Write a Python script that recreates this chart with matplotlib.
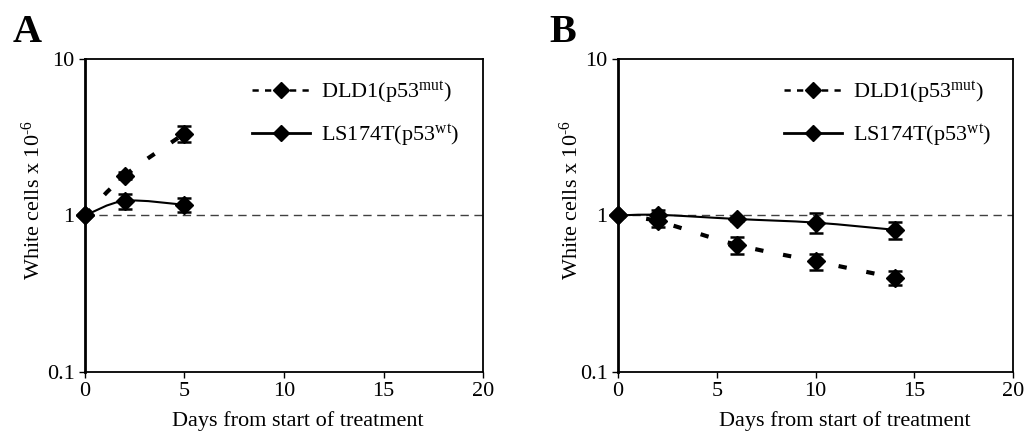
import numpy as np
import matplotlib
matplotlib.use('Agg')
import matplotlib.pyplot as plt
from matplotlib.path import Path
from matplotlib.patches import PathPatch
from matplotlib.lines import Line2D

plt.rcParams['font.family'] = ['Liberation Serif', 'DejaVu Serif']
plt.rcParams['mathtext.fontset'] = 'custom'
plt.rcParams['mathtext.rm'] = 'Liberation Serif'
plt.rcParams['mathtext.it'] = 'Liberation Serif:italic'

# panel A: short treatment
days_a = [0, 2, 5]
dld1_a = [1.0, 1.80, 3.34]
dld1_a_err = [0.0, 0.10, 0.38]
ls174t_a = [1.0, 1.24, 1.17]
ls174t_a_err = [0.0, 0.14, 0.12]

# panel B: long treatment
days_b = [0, 2, 6, 10, 14]
dld1_b = [1.0, 0.92, 0.65, 0.51, 0.40]
dld1_b_err = [0.0, 0.07, 0.08, 0.06, 0.04]
ls174t_b = [1.0, 1.01, 0.95, 0.90, 0.81]
ls174t_b_err = [0.0, 0.07, 0.03, 0.13, 0.10]

lbl_dld1 = r'DLD1(p53$^{\mathrm{mut}}$)'
lbl_ls = r'LS174T(p53$^{\mathrm{wt}}$)'
xticks = [0, 5, 10, 15, 20]
yticks = [0.1, 1, 10]
ytick_labels = ['0.1', '1', '10']

FS = 16


def smooth_path(x, y):
    # excel-style smoothed line: catmull-rom bezier in (x, log y)
    x = np.asarray(x, float)
    ly = np.log10(np.asarray(y, float))
    pts = np.column_stack([x, ly])
    n = len(pts)
    verts = [pts[0]]
    codes = [Path.MOVETO]
    for i in range(n - 1):
        p0 = pts[max(i - 1, 0)]
        p1 = pts[i]
        p2 = pts[i + 1]
        p3 = pts[min(i + 2, n - 1)]
        c1 = p1 + (p2 - p0) / 6.0
        c2 = p2 - (p3 - p1) / 6.0
        verts += [c1, c2, p2]
        codes += [Path.CURVE4] * 3
    verts = np.array(verts)
    verts[:, 1] = 10 ** verts[:, 1]
    return Path(verts, codes)


def draw_panel(ax, days, dld1, dld1_err, ls, ls_err, letter, xlab_pos,
               ylab_x, letter_x):
    ax.set_yscale('log')
    ax.set_xlim(0, 20)
    ax.set_ylim(0.1, 10)
    ax.axhline(1, color='0.25', lw=1.0, ls=(0, (6, 4)), zorder=1)

    ax.add_patch(PathPatch(smooth_path(days, dld1), fill=False, color='black',
                           lw=3.0, ls=(0, (2.0, 4.8)), zorder=2))
    ax.add_patch(PathPatch(smooth_path(days, ls), fill=False, color='black',
                           lw=1.5, zorder=2))

    for vals, errs in [(dld1, dld1_err), (ls, ls_err)]:
        ax.errorbar(days, vals, yerr=errs, fmt='none', ecolor='black',
                    elinewidth=1.5, capsize=5, capthick=1.8, zorder=3,
                    clip_on=False)
        ax.plot(days, vals, ls='none', marker='D', ms=9, color='black',
                zorder=4, clip_on=False)

    ax.set_xticks(xticks)
    ax.set_yticks(yticks)
    ax.set_yticklabels(ytick_labels)
    ax.yaxis.set_minor_locator(matplotlib.ticker.NullLocator())
    ax.tick_params(direction='out', length=4.5, width=1.0, labelsize=FS,
                   pad=3, top=False, right=False)
    for s in ax.spines.values():
        s.set_linewidth(1.3)
    ax.spines['left'].set_linewidth(2)

    ax.set_xlabel('Days from start of treatment', fontsize=FS)
    ax.xaxis.set_label_coords(xlab_pos, -0.125)
    ax.set_ylabel(r'White cells x 10$^{\text{-6}}$', fontsize=FS)
    ax.yaxis.set_label_coords(ylab_x, 0.55)

    handles = [Line2D([], [], color='black', lw=1.8, ls=(0, (2.5, 2.5)),
                      marker='D', ms=8),
               Line2D([], [], color='black', lw=2.0, marker='D', ms=8)]
    ax.legend(handles, [lbl_dld1, lbl_ls], loc='upper left',
              bbox_to_anchor=(0.42, 0.935), frameon=False, fontsize=FS,
              handlelength=2.6, handletextpad=0.5, labelspacing=0.75,
              borderpad=0, borderaxespad=0)

    ax.text(letter_x, 1.054, letter, transform=ax.transAxes, fontsize=29,
            fontweight='bold', va='baseline', ha='left')


fig = plt.figure(figsize=(10.29, 4.34), dpi=100)
ax_a = fig.add_axes([0.0826, 0.1429, 0.3868, 0.7212])
ax_b = fig.add_axes([0.6006, 0.1429, 0.3839, 0.7212])

draw_panel(ax_a, days_a, dld1_a, dld1_a_err, ls174t_a, ls174t_a_err, 'A',
           0.535, -0.100, -0.183)
draw_panel(ax_b, days_b, dld1_b, dld1_b_err, ls174t_b, ls174t_b_err, 'B',
           0.575, -0.090, -0.175)

fig.savefig('out.png', dpi=100)
